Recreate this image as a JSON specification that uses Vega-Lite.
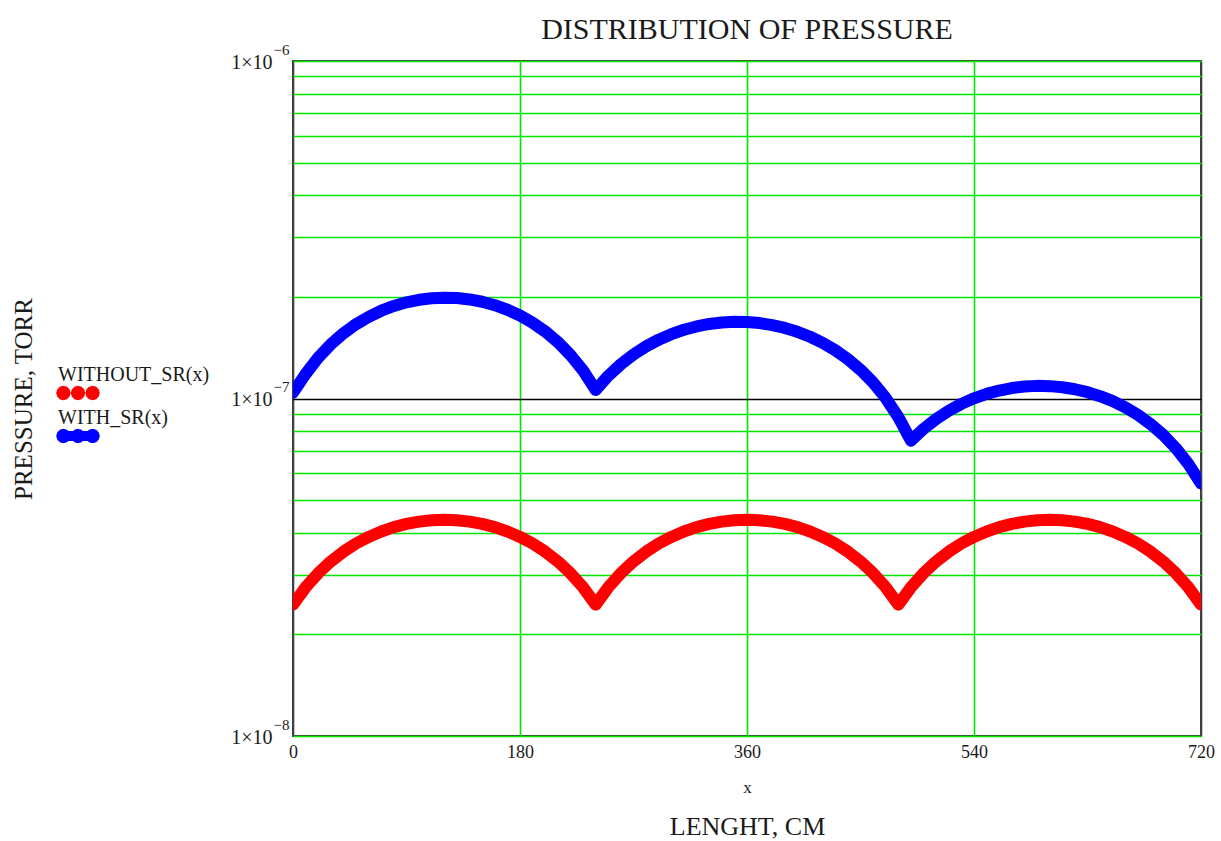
{
  "$schema": "https://vega.github.io/schema/vega-lite/v6.json",
  "autosize": "none",
  "width": 908,
  "height": 675,
  "padding": {"left": 293, "top": 61, "right": 20, "bottom": 105},
  "background": "white",
  "config": {"view": {"stroke": "#404040", "strokeWidth": 2}, "font": "Liberation Serif"},
  "title": {"text": "DISTRIBUTION OF PRESSURE", "fontSize": 30, "font": "Liberation Serif", "fontWeight": "normal", "color": "#1a1a1a", "offset": -3, "anchor": "middle"},
  "data": {"values": [
    {"x": 0, "s": "WITHOUT_SR(x)", "p": 2.45e-8},
    {"x": 10, "s": "WITHOUT_SR(x)", "p": 2.757e-8},
    {"x": 20, "s": "WITHOUT_SR(x)", "p": 3.037e-8},
    {"x": 30, "s": "WITHOUT_SR(x)", "p": 3.29e-8},
    {"x": 40, "s": "WITHOUT_SR(x)", "p": 3.517e-8},
    {"x": 50, "s": "WITHOUT_SR(x)", "p": 3.717e-8},
    {"x": 60, "s": "WITHOUT_SR(x)", "p": 3.89e-8},
    {"x": 70, "s": "WITHOUT_SR(x)", "p": 4.037e-8},
    {"x": 80, "s": "WITHOUT_SR(x)", "p": 4.157e-8},
    {"x": 90, "s": "WITHOUT_SR(x)", "p": 4.25e-8},
    {"x": 100, "s": "WITHOUT_SR(x)", "p": 4.317e-8},
    {"x": 110, "s": "WITHOUT_SR(x)", "p": 4.357e-8},
    {"x": 120, "s": "WITHOUT_SR(x)", "p": 4.37e-8},
    {"x": 130, "s": "WITHOUT_SR(x)", "p": 4.357e-8},
    {"x": 140, "s": "WITHOUT_SR(x)", "p": 4.317e-8},
    {"x": 150, "s": "WITHOUT_SR(x)", "p": 4.25e-8},
    {"x": 160, "s": "WITHOUT_SR(x)", "p": 4.157e-8},
    {"x": 170, "s": "WITHOUT_SR(x)", "p": 4.037e-8},
    {"x": 180, "s": "WITHOUT_SR(x)", "p": 3.89e-8},
    {"x": 190, "s": "WITHOUT_SR(x)", "p": 3.717e-8},
    {"x": 200, "s": "WITHOUT_SR(x)", "p": 3.517e-8},
    {"x": 210, "s": "WITHOUT_SR(x)", "p": 3.29e-8},
    {"x": 220, "s": "WITHOUT_SR(x)", "p": 3.037e-8},
    {"x": 230, "s": "WITHOUT_SR(x)", "p": 2.757e-8},
    {"x": 240, "s": "WITHOUT_SR(x)", "p": 2.45e-8},
    {"x": 250, "s": "WITHOUT_SR(x)", "p": 2.757e-8},
    {"x": 260, "s": "WITHOUT_SR(x)", "p": 3.037e-8},
    {"x": 270, "s": "WITHOUT_SR(x)", "p": 3.29e-8},
    {"x": 280, "s": "WITHOUT_SR(x)", "p": 3.517e-8},
    {"x": 290, "s": "WITHOUT_SR(x)", "p": 3.717e-8},
    {"x": 300, "s": "WITHOUT_SR(x)", "p": 3.89e-8},
    {"x": 310, "s": "WITHOUT_SR(x)", "p": 4.037e-8},
    {"x": 320, "s": "WITHOUT_SR(x)", "p": 4.157e-8},
    {"x": 330, "s": "WITHOUT_SR(x)", "p": 4.25e-8},
    {"x": 340, "s": "WITHOUT_SR(x)", "p": 4.317e-8},
    {"x": 350, "s": "WITHOUT_SR(x)", "p": 4.357e-8},
    {"x": 360, "s": "WITHOUT_SR(x)", "p": 4.37e-8},
    {"x": 370, "s": "WITHOUT_SR(x)", "p": 4.357e-8},
    {"x": 380, "s": "WITHOUT_SR(x)", "p": 4.317e-8},
    {"x": 390, "s": "WITHOUT_SR(x)", "p": 4.25e-8},
    {"x": 400, "s": "WITHOUT_SR(x)", "p": 4.157e-8},
    {"x": 410, "s": "WITHOUT_SR(x)", "p": 4.037e-8},
    {"x": 420, "s": "WITHOUT_SR(x)", "p": 3.89e-8},
    {"x": 430, "s": "WITHOUT_SR(x)", "p": 3.717e-8},
    {"x": 440, "s": "WITHOUT_SR(x)", "p": 3.517e-8},
    {"x": 450, "s": "WITHOUT_SR(x)", "p": 3.29e-8},
    {"x": 460, "s": "WITHOUT_SR(x)", "p": 3.037e-8},
    {"x": 470, "s": "WITHOUT_SR(x)", "p": 2.757e-8},
    {"x": 480, "s": "WITHOUT_SR(x)", "p": 2.45e-8},
    {"x": 490, "s": "WITHOUT_SR(x)", "p": 2.757e-8},
    {"x": 500, "s": "WITHOUT_SR(x)", "p": 3.037e-8},
    {"x": 510, "s": "WITHOUT_SR(x)", "p": 3.29e-8},
    {"x": 520, "s": "WITHOUT_SR(x)", "p": 3.517e-8},
    {"x": 530, "s": "WITHOUT_SR(x)", "p": 3.717e-8},
    {"x": 540, "s": "WITHOUT_SR(x)", "p": 3.89e-8},
    {"x": 550, "s": "WITHOUT_SR(x)", "p": 4.037e-8},
    {"x": 560, "s": "WITHOUT_SR(x)", "p": 4.157e-8},
    {"x": 570, "s": "WITHOUT_SR(x)", "p": 4.25e-8},
    {"x": 580, "s": "WITHOUT_SR(x)", "p": 4.317e-8},
    {"x": 590, "s": "WITHOUT_SR(x)", "p": 4.357e-8},
    {"x": 600, "s": "WITHOUT_SR(x)", "p": 4.37e-8},
    {"x": 610, "s": "WITHOUT_SR(x)", "p": 4.357e-8},
    {"x": 620, "s": "WITHOUT_SR(x)", "p": 4.317e-8},
    {"x": 630, "s": "WITHOUT_SR(x)", "p": 4.25e-8},
    {"x": 640, "s": "WITHOUT_SR(x)", "p": 4.157e-8},
    {"x": 650, "s": "WITHOUT_SR(x)", "p": 4.037e-8},
    {"x": 660, "s": "WITHOUT_SR(x)", "p": 3.89e-8},
    {"x": 670, "s": "WITHOUT_SR(x)", "p": 3.717e-8},
    {"x": 680, "s": "WITHOUT_SR(x)", "p": 3.517e-8},
    {"x": 690, "s": "WITHOUT_SR(x)", "p": 3.29e-8},
    {"x": 700, "s": "WITHOUT_SR(x)", "p": 3.037e-8},
    {"x": 710, "s": "WITHOUT_SR(x)", "p": 2.757e-8},
    {"x": 720, "s": "WITHOUT_SR(x)", "p": 2.45e-8},
    {"x": 0, "s": "WITH_SR(x)", "p": 1.04e-7},
    {"x": 10, "s": "WITH_SR(x)", "p": 1.182e-7},
    {"x": 20, "s": "WITH_SR(x)", "p": 1.321e-7},
    {"x": 30, "s": "WITH_SR(x)", "p": 1.447e-7},
    {"x": 40, "s": "WITH_SR(x)", "p": 1.56e-7},
    {"x": 50, "s": "WITH_SR(x)", "p": 1.66e-7},
    {"x": 60, "s": "WITH_SR(x)", "p": 1.746e-7},
    {"x": 70, "s": "WITH_SR(x)", "p": 1.82e-7},
    {"x": 80, "s": "WITH_SR(x)", "p": 1.88e-7},
    {"x": 90, "s": "WITH_SR(x)", "p": 1.927e-7},
    {"x": 100, "s": "WITH_SR(x)", "p": 1.961e-7},
    {"x": 110, "s": "WITH_SR(x)", "p": 1.982e-7},
    {"x": 120, "s": "WITH_SR(x)", "p": 1.99e-7},
    {"x": 130, "s": "WITH_SR(x)", "p": 1.985e-7},
    {"x": 140, "s": "WITH_SR(x)", "p": 1.966e-7},
    {"x": 150, "s": "WITH_SR(x)", "p": 1.935e-7},
    {"x": 160, "s": "WITH_SR(x)", "p": 1.89e-7},
    {"x": 170, "s": "WITH_SR(x)", "p": 1.832e-7},
    {"x": 180, "s": "WITH_SR(x)", "p": 1.761e-7},
    {"x": 190, "s": "WITH_SR(x)", "p": 1.677e-7},
    {"x": 200, "s": "WITH_SR(x)", "p": 1.58e-7},
    {"x": 210, "s": "WITH_SR(x)", "p": 1.47e-7},
    {"x": 220, "s": "WITH_SR(x)", "p": 1.346e-7},
    {"x": 230, "s": "WITH_SR(x)", "p": 1.21e-7},
    {"x": 240, "s": "WITH_SR(x)", "p": 1.06e-7},
    {"x": 250, "s": "WITH_SR(x)", "p": 1.167e-7},
    {"x": 260, "s": "WITH_SR(x)", "p": 1.263e-7},
    {"x": 270, "s": "WITH_SR(x)", "p": 1.35e-7},
    {"x": 280, "s": "WITH_SR(x)", "p": 1.427e-7},
    {"x": 290, "s": "WITH_SR(x)", "p": 1.494e-7},
    {"x": 300, "s": "WITH_SR(x)", "p": 1.551e-7},
    {"x": 310, "s": "WITH_SR(x)", "p": 1.598e-7},
    {"x": 320, "s": "WITH_SR(x)", "p": 1.635e-7},
    {"x": 330, "s": "WITH_SR(x)", "p": 1.663e-7},
    {"x": 340, "s": "WITH_SR(x)", "p": 1.68e-7},
    {"x": 350, "s": "WITH_SR(x)", "p": 1.687e-7},
    {"x": 360, "s": "WITH_SR(x)", "p": 1.685e-7},
    {"x": 370, "s": "WITH_SR(x)", "p": 1.673e-7},
    {"x": 380, "s": "WITH_SR(x)", "p": 1.65e-7},
    {"x": 390, "s": "WITH_SR(x)", "p": 1.618e-7},
    {"x": 400, "s": "WITH_SR(x)", "p": 1.576e-7},
    {"x": 410, "s": "WITH_SR(x)", "p": 1.524e-7},
    {"x": 420, "s": "WITH_SR(x)", "p": 1.462e-7},
    {"x": 430, "s": "WITH_SR(x)", "p": 1.39e-7},
    {"x": 440, "s": "WITH_SR(x)", "p": 1.308e-7},
    {"x": 450, "s": "WITH_SR(x)", "p": 1.216e-7},
    {"x": 460, "s": "WITH_SR(x)", "p": 1.115e-7},
    {"x": 470, "s": "WITH_SR(x)", "p": 1.003e-7},
    {"x": 480, "s": "WITH_SR(x)", "p": 8.81e-8},
    {"x": 490, "s": "WITH_SR(x)", "p": 7.5e-8},
    {"x": 500, "s": "WITH_SR(x)", "p": 8.13e-8},
    {"x": 510, "s": "WITH_SR(x)", "p": 8.7e-8},
    {"x": 520, "s": "WITH_SR(x)", "p": 9.2e-8},
    {"x": 530, "s": "WITH_SR(x)", "p": 9.64e-8},
    {"x": 540, "s": "WITH_SR(x)", "p": 1.001e-7},
    {"x": 550, "s": "WITH_SR(x)", "p": 1.032e-7},
    {"x": 560, "s": "WITH_SR(x)", "p": 1.056e-7},
    {"x": 570, "s": "WITH_SR(x)", "p": 1.074e-7},
    {"x": 580, "s": "WITH_SR(x)", "p": 1.085e-7},
    {"x": 590, "s": "WITH_SR(x)", "p": 1.09e-7},
    {"x": 600, "s": "WITH_SR(x)", "p": 1.088e-7},
    {"x": 610, "s": "WITH_SR(x)", "p": 1.08e-7},
    {"x": 620, "s": "WITH_SR(x)", "p": 1.065e-7},
    {"x": 630, "s": "WITH_SR(x)", "p": 1.044e-7},
    {"x": 640, "s": "WITH_SR(x)", "p": 1.016e-7},
    {"x": 650, "s": "WITH_SR(x)", "p": 9.82e-8},
    {"x": 660, "s": "WITH_SR(x)", "p": 9.41e-8},
    {"x": 670, "s": "WITH_SR(x)", "p": 8.94e-8},
    {"x": 680, "s": "WITH_SR(x)", "p": 8.4e-8},
    {"x": 690, "s": "WITH_SR(x)", "p": 7.8e-8},
    {"x": 700, "s": "WITH_SR(x)", "p": 7.13e-8},
    {"x": 710, "s": "WITH_SR(x)", "p": 6.4e-8},
    {"x": 720, "s": "WITH_SR(x)", "p": 5.6e-8}
  ]},
  "resolve": {"axis": {"x": "independent", "y": "independent"}},
  "layer": [
    {
      "mark": {"type": "line", "clip": true, "strokeCap": "round", "strokeJoin": "round", "strokeWidth": 12},
      "encoding": {
        "x": {"field": "x", "type": "quantitative",
          "scale": {"domain": [0, 720], "nice": false, "zero": false},
          "axis": {"values": [0, 180, 360, 540, 720], "ticks": false, "domain": false,
            "labelFont": "Liberation Serif", "labelFontSize": 18, "labelColor": "#1a1a1a", "labelPadding": 7,
            "labelFlush": false, "labelOverlap": false,
            "gridColor": {"condition": {"test": "datum.value == 0 || datum.value == 720", "value": "#404040"}, "value": "#00e600"},
            "gridWidth": 1.6,
            "title": "x", "titleFont": "Liberation Serif", "titleFontSize": 17, "titleFontWeight": "normal", "titleColor": "#1a1a1a", "titlePadding": 18}},
        "y": {"field": "p", "type": "quantitative",
          "scale": {"type": "log", "domain": [1e-8, 1e-6], "nice": false},
          "axis": {"orient": "left", "values": [1e-8, 2e-8, 3e-8, 4e-8, 5e-8, 6e-8, 7e-8, 8e-8, 9e-8, 1e-7, 2e-7, 3e-7, 4e-7, 5e-7, 6e-7, 7e-7, 8e-7, 9e-7, 1e-6],
            "labelExpr": "(datum.value == 1e-6 || datum.value == 1e-7 || datum.value == 1e-8) ? '1×10' : ''",
            "ticks": false, "domain": false, "labelOverlap": false, "labelBound": false, "labelFlush": false,
            "labelFont": "Liberation Serif", "labelFontSize": 20, "labelColor": "#1a1a1a", "labelPadding": 21, "labelOffset": 1,
            "gridColor": {"condition": {"test": "datum.value == 1e-7", "value": "#000000"}, "value": "#00e600"},
            "gridWidth": 1.6,
            "title": "PRESSURE, TORR", "titleFont": "Liberation Serif", "titleFontSize": 25, "titleFontWeight": "normal", "titleColor": "#1a1a1a", "titleX": -257}},
        "color": {"field": "s", "type": "nominal",
          "scale": {"domain": ["WITHOUT_SR(x)", "WITH_SR(x)"], "range": ["#ff0000", "#0000ff"]},
          "legend": {"orient": "none", "legendX": -235, "legendY": 312, "title": null, "padding": 0,
            "symbolSize": 1600, "symbolStrokeWidth": 0, "symbolStrokeColor": "transparent", "rowPadding": 7, "labelFont": "Liberation Serif", "labelFontSize": 20, "labelColor": "#1a1a1a",
            "labelOffset": -40, "labelLimit": 300,
            "encode": {
              "symbols": {"update": {
                "shape": {"signal": "datum.value === 'WITH_SR(x)' ? 'M -0.37 0 L -0.418 0.18 L -0.55 0.312 L -0.73 0.36 L -0.91 0.312 L -1.042 0.18 L -1.09 0 L -1.042 -0.18 L -0.91 -0.312 L -0.73 -0.36 L -0.55 -0.312 L -0.418 -0.18 Z M 0.36 0 L 0.312 0.18 L 0.18 0.312 L 0 0.36 L -0.18 0.312 L -0.312 0.18 L -0.36 0 L -0.312 -0.18 L -0.18 -0.312 L 0 -0.36 L 0.18 -0.312 L 0.312 -0.18 Z M 1.09 0 L 1.042 0.18 L 0.91 0.312 L 0.73 0.36 L 0.55 0.312 L 0.418 0.18 L 0.37 0 L 0.418 -0.18 L 0.55 -0.312 L 0.73 -0.36 L 0.91 -0.312 L 1.042 -0.18 Z M -0.75 -0.25 L 0.75 -0.25 L 0.75 0.25 L -0.75 0.25 Z' : 'M -0.37 0 L -0.418 0.18 L -0.55 0.312 L -0.73 0.36 L -0.91 0.312 L -1.042 0.18 L -1.09 0 L -1.042 -0.18 L -0.91 -0.312 L -0.73 -0.36 L -0.55 -0.312 L -0.418 -0.18 Z M 0.36 0 L 0.312 0.18 L 0.18 0.312 L 0 0.36 L -0.18 0.312 L -0.312 0.18 L -0.36 0 L -0.312 -0.18 L -0.18 -0.312 L 0 -0.36 L 0.18 -0.312 L 0.312 -0.18 Z M 1.09 0 L 1.042 0.18 L 0.91 0.312 L 0.73 0.36 L 0.55 0.312 L 0.418 0.18 L 0.37 0 L 0.418 -0.18 L 0.55 -0.312 L 0.73 -0.36 L 0.91 -0.312 L 1.042 -0.18 Z'"},
                "fill": {"signal": "datum.value === 'WITH_SR(x)' ? '#0000ff' : '#ff0000'"},
                "stroke": {"value": "transparent"},
                "strokeWidth": {"value": 0},
                "size": {"value": 1600},
                "opacity": {"value": 1}
              }},
              "labels": {"update": {"dy": {"value": -18}}}
            }}}
      }
    },
    {
      "mark": {"type": "point", "opacity": 0},
      "encoding": {
        "x": {"field": "x", "type": "quantitative",
          "axis": {"orient": "bottom", "labels": false, "ticks": false, "domain": false, "grid": false,
            "title": "LENGHT, CM", "titleFont": "Liberation Serif", "titleFontSize": 26, "titleFontWeight": "normal", "titleColor": "#1a1a1a", "titlePadding": 77}},
        "y": {"field": "p", "type": "quantitative",
          "axis": {"orient": "left", "values": [1e-8, 1e-7, 1e-6],
            "labelExpr": "datum.value == 1e-6 ? '−6' : (datum.value == 1e-7 ? '−7' : '−8')",
            "ticks": false, "domain": false, "grid": false, "labelOverlap": false, "labelBound": false, "labelFlush": false,
            "labelFont": "Liberation Serif", "labelFontSize": 15, "labelColor": "#1a1a1a", "labelPadding": 4, "labelOffset": -12,
            "title": null}}
      }
    }
  ]
}
